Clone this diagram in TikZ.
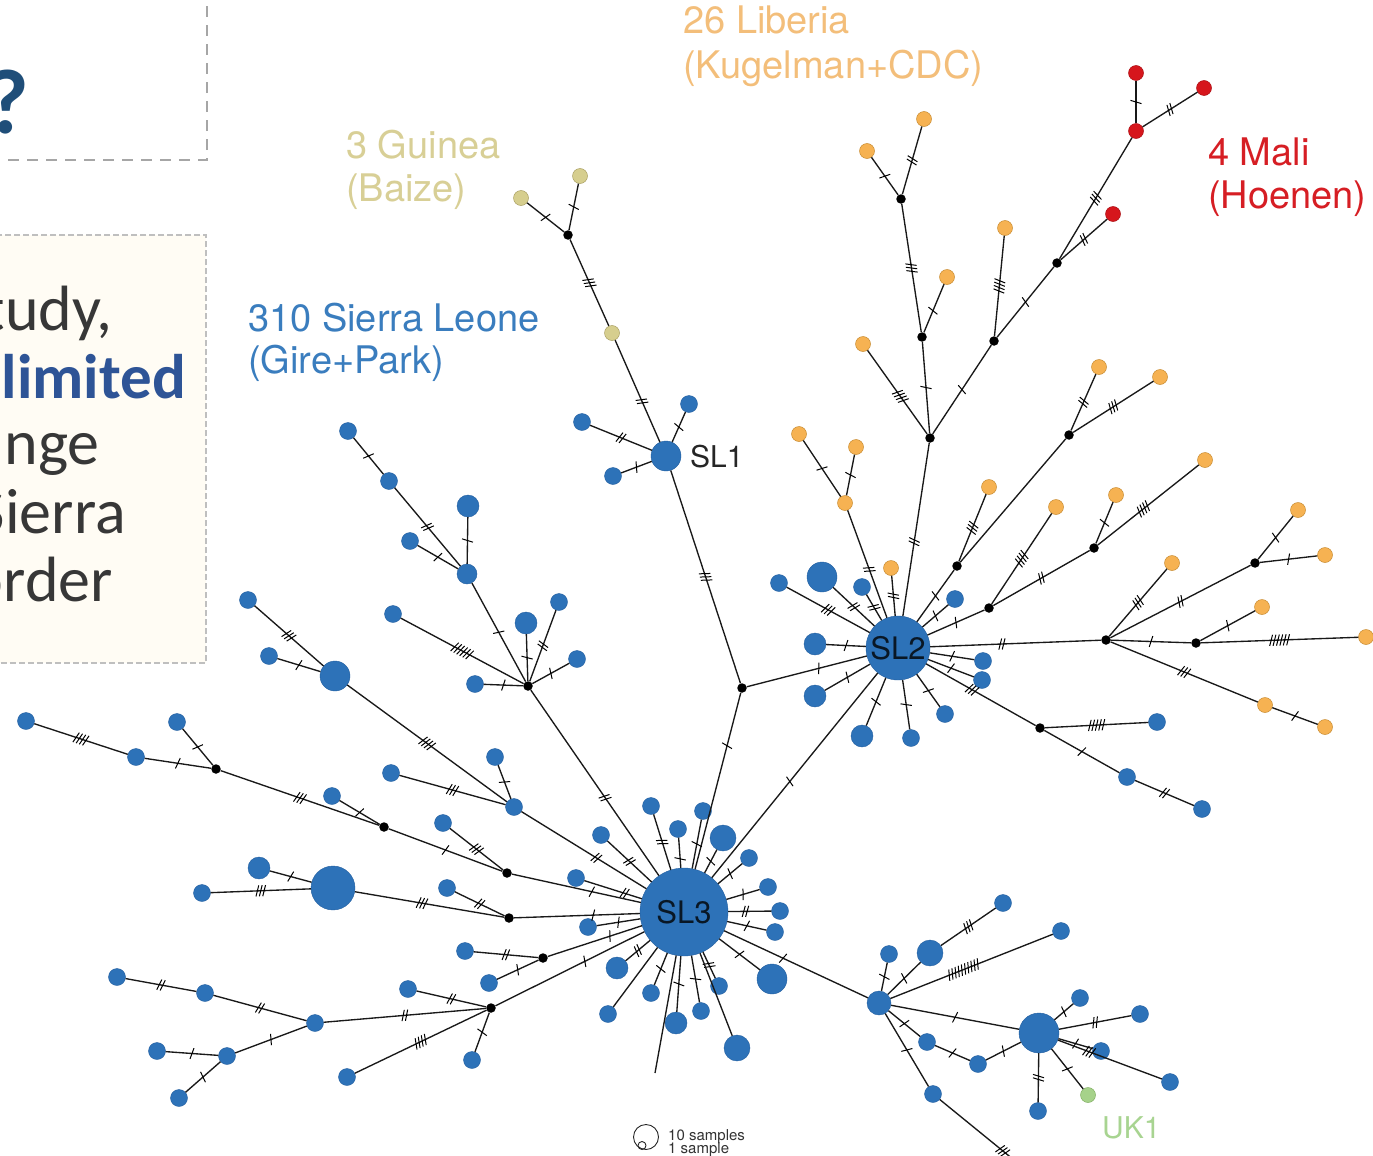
\documentclass[tikz,border=0pt]{standalone}
\usepackage{fontspec}
\usetikzlibrary{decorations.markings}
\newfontfamily\hv{TeX Gyre Heros}
\newfontfamily\cb{Carlito}
\definecolor{nb}{RGB}{45,114,184}
\definecolor{nbd}{RGB}{35,95,160}
\definecolor{no}{RGB}{246,178,82}
\definecolor{nod}{RGB}{200,140,50}
\definecolor{nr}{RGB}{214,22,28}
\definecolor{nrd}{RGB}{170,15,20}
\definecolor{nk}{RGB}{214,206,142}
\definecolor{nkd}{RGB}{170,160,100}
\definecolor{ng}{RGB}{166,210,138}
\definecolor{ngd}{RGB}{130,175,100}
\definecolor{tl}{RGB}{243,190,122}
\definecolor{tg}{RGB}{216,207,150}
\definecolor{ts}{RGB}{58,125,190}
\definecolor{tm}{RGB}{214,30,36}
\definecolor{tu}{RGB}{168,212,145}
\definecolor{qb}{RGB}{31,78,121}
\definecolor{lb}{RGB}{46,84,150}
\definecolor{tx}{RGB}{55,55,55}
\definecolor{bxf}{RGB}{255,252,244}
\newcommand\edg[4]{\draw[ed,mk={#3}{#4}] (#1) -- (#2);}
\newcommand\edgn[2]{\draw[ed] (#1) -- (#2);}
\begin{document}
\begin{tikzpicture}[x=1pt,y=-1pt,
  ed/.style={line width=1.35pt,black!90},
  mk/.style 2 args={postaction={decorate,decoration={markings,mark=at position #1 with {\foreach \k in {1,...,#2}{\draw[line width=1pt,black] ({(\k-(#2+1)/2)*3.4pt-1.6pt},-5.5pt) -- ++(3.2pt,11pt);}}}}},
  bl/.style={circle,fill=nb,draw=nbd,line width=0.4pt,inner sep=0pt,minimum size=#1},
  bl/.default=17pt,
  or/.style={circle,fill=no,draw=nod,line width=0.5pt,inner sep=0pt,minimum size=15pt},
  rd/.style={circle,fill=nr,draw=nrd,line width=0.5pt,inner sep=0pt,minimum size=15pt},
  kh/.style={circle,fill=nk,draw=nkd,line width=0.5pt,inner sep=0pt,minimum size=15pt},
  gr/.style={circle,fill=ng,draw=ngd,line width=0.5pt,inner sep=0pt,minimum size=15pt},
  jn/.style={circle,fill=black,inner sep=0pt,minimum size=9.5pt},
  lab/.style={anchor=base west,inner sep=0pt,font=\hv\fontsize{38}{44}\selectfont},
  ltx/.style={anchor=base east,inner sep=0pt,text=tx,font=\cb\fontsize{64}{68}\selectfont},
]
\useasboundingbox (0,0) rectangle (1373,1156);
\clip (0,0) rectangle (1373,1156);
% left boxes
\draw[draw=black!35,line width=2.2pt,dash pattern=on 11pt off 8pt] (-30,-30) rectangle (207,160);
\filldraw[fill=bxf,draw=black!25,line width=1.6pt,dash pattern=on 6pt off 3pt] (-30,235) rectangle (206,663);
\node[anchor=base east,inner sep=0pt,text=qb,font=\cb\bfseries\fontsize{92}{100}\selectfont] (qm) at (29,133) {?};
\node[ltx] (t1) at (113,330) {tudy,};
\node[ltx,text=lb,font=\cb\bfseries\fontsize{63}{68}\selectfont] (t2) at (186,398) {limited};
\node[ltx] (t3) at (100,464) {nge};
\node[ltx] (t4) at (126,533) {Sierra};
\node[ltx] (t5) at (113,601) {order};

% region labels
\node[lab,text=tl] (lib1) at (683,34) {26 Liberia};
\node[lab,text=tl] (lib2) at (683,78) {(Kugelman+CDC)};
\node[lab,text=tg] (gui1) at (346,158) {3 Guinea};
\node[lab,text=tg] (gui2) at (346,201) {(Baize)};
\node[lab,text=ts] (sle1) at (248,331) {310 Sierra Leone};
\node[lab,text=ts] (sle2) at (248,373) {(Gire+Park)};
\node[lab,text=tm] (mal1) at (1208,165) {4 Mali};
\node[lab,text=tm] (mal2) at (1208,208) {(Hoenen)};
\node[lab,text=tu,font=\hv\fontsize{30}{34}\selectfont] (uk) at (1102,1138) {UK1};

% ---------- nodes ----------
\node[bl=88pt] (SLc) at (684,912) {};
\node[bl=64pt] (SLb) at (898,648) {};
\node[bl=30pt] (SLa) at (666,456) {};
\node[jn] (J1) at (742,688) {};
% SL1 group
\node[kh] (k1) at (612,333) {};
\node[jn] (jg) at (568,235) {};
\node[kh] (k2) at (521,198) {};
\node[kh] (k3) at (580,176) {};
\node[bl] (a1) at (582,422) {};
\node[bl] (a2) at (689,404) {};
\node[bl] (a3) at (613,476) {};
% Liberia / Mali
\node[jn] (jA) at (930,438) {};
\node[jn] (jB) at (922,337) {};
\node[jn] (jD) at (901,199) {};
\node[jn] (jC) at (994,341) {};
\node[jn] (jE) at (1057,263) {};
\node[jn] (jF) at (1069,435) {};
\node[or] (o1) at (863,344) {};
\node[or] (o2) at (947,277) {};
\node[or] (o3) at (867,151) {};
\node[or] (o4) at (924,119) {};
\node[or] (o5) at (1005,228) {};
\node[rd] (r1) at (1136,131) {};
\node[rd] (r2) at (1113,214) {};
\node[rd] (r3) at (1136,73) {};
\node[rd] (r4) at (1204,88) {};
\node[or] (o6) at (1099,367) {};
\node[or] (o7) at (1160,377) {};
\node[or] (o8) at (799,434) {};
\node[or] (o9) at (856,447) {};
\node[or] (o10) at (845,503) {};
\node[or] (o11) at (891,568) {};
\node[jn] (jG) at (957,566) {};
\node[jn] (jH) at (989,608) {};
\node[jn] (jI) at (1094,548) {};
\node[or] (o12) at (989,487) {};
\node[or] (o13) at (1056,507) {};
\node[or] (o14) at (1116,495) {};
\node[or] (o15) at (1205,460) {};
\node[jn] (jK) at (1106,640) {};
\node[jn] (jL) at (1255,563) {};
\node[jn] (jM) at (1196,643) {};
\node[or] (o16) at (1172,563) {};
\node[or] (o17) at (1298,510) {};
\node[or] (o18) at (1325,555) {};
\node[or] (o19) at (1262,607) {};
\node[or] (o20) at (1366,637) {};
\node[or] (o21) at (1265,705) {};
\node[or] (o22) at (1325,727) {};
\node[jn] (jN) at (1040,728) {};
\node[bl] (n1) at (1157,722) {};
\node[bl] (n2) at (1127,777) {};
\node[bl] (n3) at (1202,809) {};
% SL2 leaves
\node[bl] (s1) at (779,583) {};
\node[bl=30pt] (s2) at (822,577) {};
\node[bl] (s3) at (862,587) {};
\node[bl] (s4) at (955,599) {};
\node[bl] (s5) at (983,661) {};
\node[bl] (s6) at (982,680) {};
\node[bl] (s7) at (945,714) {};
\node[bl] (s8) at (911,738) {};
\node[bl=22pt] (s9) at (862,736) {};
\node[bl=22pt] (s10) at (815,696) {};
\node[bl=22pt] (s11) at (815,644) {};
% SL3 leaves
\node[bl] (c1) at (651,806) {};
\node[bl] (c2) at (703,811) {};
\node[bl] (c3) at (678,829) {};
\node[bl=26pt] (c4) at (723,838) {};
\node[bl] (c5) at (749,858) {};
\node[bl] (c6) at (601,835) {};
\node[bl] (c7) at (576,878) {};
\node[bl] (c8) at (588,927) {};
\node[bl=22pt] (c9) at (617,968) {};
\node[bl] (c10) at (651,993) {};
\node[bl] (c11) at (608,1014) {};
\node[bl=22pt] (c12) at (676,1023) {};
\node[bl] (c13) at (701,1011) {};
\node[bl] (c14) at (719,986) {};
\node[bl=26pt] (c15) at (737,1048) {};
\node[bl=30pt] (c16) at (772,979) {};
\node[bl] (c17) at (768,887) {};
\node[bl] (c18) at (780,911) {};
\node[bl] (c19) at (775,932) {};
\coordinate (fr) at (655,1073);
% upper-left branch
\node[jn] (jU) at (528,686) {};
\node[bl] (u1) at (348,431) {};
\node[bl] (u2) at (389,481) {};
\node[bl=20pt] (u3) at (467,574) {};
\node[bl=22pt] (u4) at (468,506) {};
\node[bl] (u5) at (410,541) {};
\node[bl] (u6) at (393,614) {};
\node[bl=22pt] (u7) at (526,623) {};
\node[bl] (u8) at (559,602) {};
\node[bl] (u9) at (577,659) {};
\node[bl] (u10) at (475,684) {};
% left branch
\node[bl] (w1) at (248,600) {};
\node[bl] (w2) at (269,656) {};
\node[bl=30pt] (w3) at (335,676) {};
\node[bl] (w4) at (514,807) {};
\node[bl] (w5) at (495,757) {};
\node[bl] (w6) at (391,773) {};
% far left
\node[bl] (x1) at (26,721) {};
\node[bl] (x2) at (136,757) {};
\node[jn] (jX) at (216,769) {};
\node[bl] (x3) at (177,722) {};
\node[jn] (jY) at (384,827) {};
\node[bl] (x4) at (332,796) {};
\node[jn] (jZ) at (507,873) {};
\node[bl] (x5) at (443,823) {};
% big blue
\node[bl=44pt] (y1) at (333,888) {};
\node[bl=22pt] (y2) at (259,868) {};
\node[bl] (y3) at (202,893) {};
\node[jn] (jW) at (509,918) {};
\node[bl] (y4) at (447,888) {};
% lower
\node[jn] (jV) at (543,958) {};
\node[bl] (v1) at (465,951) {};
\node[bl] (v2) at (489,983) {};
\node[jn] (jT) at (491,1008) {};
\node[bl] (q1) at (408,989) {};
\node[bl] (q2) at (472,1060) {};
\node[bl] (q3) at (347,1077) {};
\node[bl] (q4) at (315,1023) {};
\node[bl] (q5) at (205,993) {};
\node[bl] (q6) at (117,977) {};
\node[bl] (q7) at (227,1056) {};
\node[bl] (q8) at (157,1051) {};
\node[bl] (q9) at (179,1098) {};
% bottom right
\node[bl=24pt] (h1) at (879,1003) {};
\node[bl=40pt] (h2) at (1039,1033) {};
\node[bl] (e1) at (889,954) {};
\node[bl=26pt] (e2) at (930,953) {};
\node[bl] (e3) at (1003,903) {};
\node[bl] (e4) at (1061,931) {};
\node[bl] (e5) at (1080,998) {};
\node[bl] (e6) at (1140,1014) {};
\node[bl] (e7) at (1101,1051) {};
\node[bl] (e8) at (1170,1082) {};
\node[bl] (e9) at (1038,1111) {};
\node[gr] (g1) at (1088,1095) {};
\node[bl] (e10) at (927,1042) {};
\node[bl] (e11) at (978,1064) {};
\node[bl] (e12) at (933,1094) {};
\coordinate (eend) at (1014,1160);

% ---------- edges ----------
\edg{SLa}{k1}{.4}{2}
\edg{k1}{jg}{.5}{3}
\edg{jg}{k2}{.5}{1}
\edg{jg}{k3}{.5}{1}
\edg{SLa}{a1}{.5}{2}
\edg{SLa}{a2}{.5}{1}
\edg{SLa}{a3}{.5}{1}
\edg{SLa}{J1}{.5}{3}
\edg{J1}{SLc}{.3}{1}
\edg{J1}{SLb}{.6}{1}
\edg{SLc}{SLb}{.47}{1}
% Liberia
\edg{jA}{SLb}{.57}{2}
\edg{jA}{jB}{.5}{1}
\edg{jA}{o1}{.45}{4}
\edg{jA}{jC}{.5}{1}
\edg{jB}{jD}{.5}{3}
\edg{jB}{o2}{.45}{1}
\edg{jD}{o3}{.5}{1}
\edg{jD}{o4}{.5}{2}
\edg{jC}{o5}{.5}{4}
\edg{jC}{jE}{.5}{1}
\edg{jE}{r1}{.5}{3}
\edg{jE}{r2}{.5}{2}
\edg{r1}{r3}{.5}{1}
\edg{r1}{r4}{.5}{2}
\edg{jF}{o6}{.5}{2}
\edg{jF}{o7}{.5}{3}
\edgn{jF}{jG}
\edg{jG}{o12}{.5}{3}
\edg{jG}{SLb}{.5}{1}
\edg{jH}{SLb}{.5}{1}
\edg{jH}{o13}{.5}{4}
\edg{jH}{jI}{.5}{2}
\edg{jI}{o14}{.5}{1}
\edg{jI}{o15}{.45}{4}
\edg{o10}{SLb}{.55}{2}
\edg{o8}{o10}{.5}{1}
\edg{o9}{o10}{.5}{1}
\edg{o11}{SLb}{.5}{2}
\edg{SLb}{jK}{.42}{2}
\edg{jK}{o16}{.5}{3}
\edg{jK}{jL}{.5}{2}
\edg{jL}{o17}{.5}{1}
\edg{jL}{o18}{.5}{1}
\edg{jK}{jM}{.5}{1}
\edg{jM}{o20}{.5}{6}
\edg{jM}{o19}{.5}{1}
\edg{jK}{o21}{.5}{3}
\edg{o21}{o22}{.5}{1}
\edg{SLb}{jN}{.42}{3}
\edg{jN}{n1}{.5}{5}
\edg{jN}{n2}{.5}{1}
\edg{n2}{n3}{.5}{2}
% SL2 leaves
\edg{s1}{SLb}{.5}{3}
\edg{s2}{SLb}{.5}{2}
\edg{s3}{SLb}{.5}{2}
\edg{s4}{SLb}{.5}{1}
\edg{s5}{SLb}{.5}{1}
\edg{s6}{SLb}{.5}{1}
\edg{s7}{SLb}{.5}{1}
\edg{s8}{SLb}{.5}{1}
\edg{s9}{SLb}{.5}{1}
\edg{s10}{SLb}{.5}{1}
\edg{s11}{SLb}{.5}{1}
% SL3 leaves
\edg{c1}{SLc}{.5}{2}
\edg{c2}{SLc}{.5}{1}
\edg{c3}{SLc}{.7}{1}
\edg{c4}{SLc}{.5}{1}
\edg{c5}{SLc}{.5}{1}
\edg{c6}{SLc}{.5}{2}
\edg{c7}{SLc}{.7}{2}
\edg{c8}{SLc}{.5}{1}
\edg{c9}{SLc}{.5}{2}
\edg{c10}{SLc}{.5}{1}
\edgn{c11}{SLc}
\edg{c12}{SLc}{.5}{1}
\edg{c13}{SLc}{.5}{1}
\edg{c14}{SLc}{.5}{2}
\edgn{c15}{SLc}
\edg{c16}{SLc}{.5}{1}
\edg{c17}{SLc}{.5}{1}
\edg{c18}{SLc}{.6}{2}
\edg{c19}{SLc}{.5}{1}
\edgn{SLc}{fr}
% upper-left
\edg{u1}{u2}{.5}{1}
\edg{u2}{u3}{.5}{2}
\edg{u4}{u3}{.5}{1}
\edg{u5}{u3}{.5}{1}
\edg{u3}{jU}{.5}{1}
\edg{u6}{jU}{.5}{6}
\edg{u7}{jU}{.5}{1}
\edg{u8}{jU}{.5}{2}
\edg{u9}{jU}{.5}{1}
\edg{u10}{jU}{.5}{1}
\edg{jU}{SLc}{.58}{2}
% left
\edg{w1}{w3}{.5}{3}
\edg{w2}{w3}{.5}{1}
\edg{w3}{w4}{.5}{4}
\edg{w5}{w4}{.5}{1}
\edg{w6}{w4}{.5}{3}
\edg{w4}{SLc}{.6}{2}
% far left
\edg{x1}{x2}{.5}{4}
\edg{x2}{jX}{.5}{1}
\edg{x3}{jX}{.5}{1}
\edg{jX}{jY}{.5}{3}
\edg{x4}{jY}{.5}{1}
\edg{jY}{jZ}{.5}{1}
\edg{x5}{jZ}{.5}{3}
\edg{jZ}{SLc}{.62}{1}
% big blue
\edg{y2}{y1}{.5}{1}
\edg{y3}{y1}{.5}{3}
\edg{y1}{jW}{.45}{3}
\edg{y4}{jW}{.5}{2}
\edg{jW}{SLc}{.63}{1}
% lower
\edg{v1}{jV}{.5}{2}
\edg{v2}{jV}{.5}{1}
\edg{jV}{SLc}{.66}{1}
\edg{q1}{jT}{.5}{2}
\edg{q2}{jT}{.5}{1}
\edg{q3}{jT}{.5}{4}
\edg{q4}{jT}{.5}{2}
\edg{q5}{q4}{.5}{2}
\edg{q6}{q5}{.5}{2}
\edg{q7}{q4}{.5}{1}
\edg{q8}{q7}{.5}{1}
\edg{q9}{q7}{.5}{1}
\edg{jT}{SLc}{.6}{1}
% bottom right
\edg{SLc}{h1}{.41}{1}
\edg{e1}{h1}{.5}{1}
\edg{e2}{h1}{.5}{1}
\edg{e2}{e3}{.5}{3}
\edg{h1}{e4}{.45}{10}
\edg{h1}{h2}{.5}{1}
\edg{h2}{e5}{.5}{1}
\edg{h2}{e6}{.5}{2}
\edg{h2}{e7}{.5}{1}
\edg{h2}{e8}{.3}{3}
\edg{h2}{e9}{.5}{2}
\edg{h2}{g1}{.5}{1}
\edg{h1}{e10}{.5}{1}
\edg{e10}{e11}{.5}{1}
\edg{e11}{h2}{.5}{1}
\edg{h1}{e12}{.5}{1}
\edg{e12}{eend}{.85}{3}

% hub labels
\node[anchor=base west,inner sep=0pt,font=\hv\fontsize{30}{34}\selectfont,text=black!85] (l1) at (690,467) {SL1};
\node[inner sep=0pt,font=\hv\fontsize{31}{34}\selectfont,text=black!80!nb] (l2) at (SLb) {SL2};
\node[inner sep=0pt,font=\hv\fontsize{31}{34}\selectfont,text=black!80!nb] (l3) at (SLc) {SL3};

% legend
\node[circle,draw=black!85,line width=0.9pt,minimum size=25pt,inner sep=0pt] (lg10) at (646,1137) {};
\node[circle,draw=black!85,line width=0.9pt,minimum size=8pt,inner sep=0pt] (lg1) at (642,1145.5) {};
\node[anchor=base west,inner sep=0pt,font=\hv\fontsize{15}{15}\selectfont,text=black!80] (lgt1) at (668,1140) {10 samples};
\node[anchor=base west,inner sep=0pt,font=\hv\fontsize{15}{15}\selectfont,text=black!80] (lgt2) at (668,1153) {1 sample};
\end{tikzpicture}
\end{document}
